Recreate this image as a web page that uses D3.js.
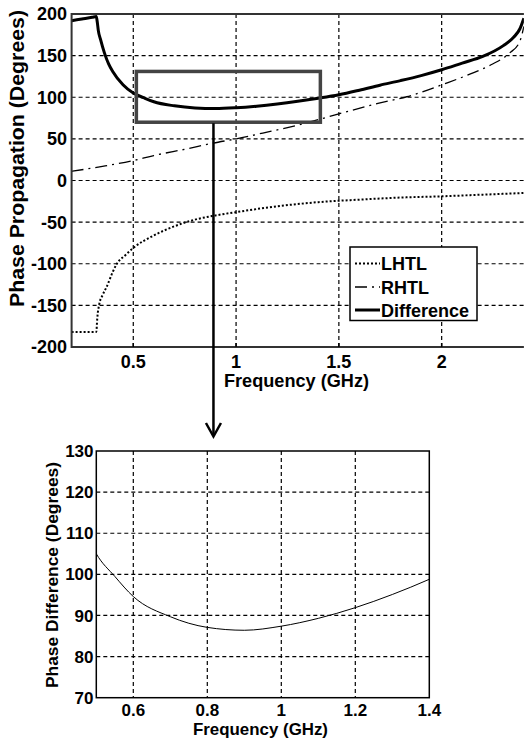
<!DOCTYPE html>
<html>
<head>
<meta charset="utf-8">
<script src="https://cdn.jsdelivr.net/npm/d3@7"></script>
<style>
  body { margin: 0; background: #fff; }
  text { font-family: "Liberation Sans", Arial, sans-serif; font-weight: bold; fill: #000; }
</style>
</head>
<body>
<script>
// values
var lhtlFreq = [0.2, 0.32, 0.325, 0.335, 0.35, 0.37, 0.4, 0.42, 0.46, 0.5, 0.6, 0.7, 0.8, 0.9, 1.0, 1.2, 1.4, 1.6, 1.8, 2.0, 2.2, 2.4]
var lhtlPhase = [-182, -182, -165, -148, -138, -128, -110, -100, -90, -81, -66, -55, -47, -42, -38, -31, -26, -23, -20.5, -19, -17, -15]

var rhtlFreq = [0.2, 0.35, 0.5, 0.6, 0.76, 0.89, 1.0, 1.13, 1.3, 1.5, 1.69, 1.83, 2.02, 2.14, 2.24, 2.33, 2.38, 2.4]
var rhtlPhase = [11, 17, 24, 30, 38, 45, 50, 57, 66.5, 80, 92.6, 100.6, 116.7, 128, 139, 153, 167, 185]

var diffFreq = [0.2, 0.25, 0.3, 0.32, 0.325, 0.33, 0.34, 0.36, 0.38, 0.4, 0.45, 0.5, 0.55, 0.6, 0.7, 0.8, 0.9, 1.0, 1.1, 1.2, 1.3, 1.4, 1.5, 1.6, 1.7, 1.8, 1.9, 2.0, 2.1, 2.2, 2.3, 2.35, 2.38, 2.4]
var diffPhase = [192, 194, 196, 197, 190, 180, 170, 153, 140, 131, 115, 105, 99.5, 94.6, 89.7, 87.1, 86.4, 87.4, 89.3, 91.9, 95.1, 98.8, 103, 108.5, 114.5, 120, 126, 133, 141, 149, 162, 172, 182, 195]

var topXTicks = [0.5, 1, 1.5, 2]
var topYTicks = [-200, -150, -100, -50, 0, 50, 100, 150, 200]
var botXTicks = [0.6, 0.8, 1, 1.2, 1.4]
var botYTicks = [70, 80, 90, 100, 110, 120, 130]

var legendNames = ["LHTL", "RHTL", "Difference"]

// zoom window drawn on the top plot
var boxFreq = [0.515, 1.41]
var boxPhase = [70, 131]
var arrowFreq = 0.89

var svg = d3.select("body").append("svg")
  .attr("width", 527)
  .attr("height", 740)

function zip(xs, ys) { return xs.map((x, i) => [x, ys[i]]) }

// ---------- TOP PLOT ----------
var x1 = d3.scaleLinear([0.2, 2.4], [71.6, 523.9])
var y1 = d3.scaleLinear([-200, 200], [347, 14])

svg.append("clipPath").attr("id", "clipTop")
  .append("rect").attr("x", x1(0.2)).attr("y", y1(200))
  .attr("width", x1(2.4) - x1(0.2)).attr("height", y1(-200) - y1(200))

var topPlot = svg.append("g")

// grid
topPlot.selectAll(".vgrid").data(topXTicks).join("line")
  .attr("x1", d => x1(d)).attr("x2", d => x1(d))
  .attr("y1", y1(200)).attr("y2", y1(-200))
  .attr("stroke", "#000").attr("stroke-width", 1.2).attr("stroke-dasharray", "4,3")
topPlot.selectAll(".hgrid").data(topYTicks.slice(1, -1)).join("line")
  .attr("x1", x1(0.2)).attr("x2", x1(2.4))
  .attr("y1", d => y1(d)).attr("y2", d => y1(d))
  .attr("stroke", "#000").attr("stroke-width", 1.2).attr("stroke-dasharray", "4,3")

var line1 = d3.line().x(d => x1(d[0])).y(d => y1(d[1])).curve(d3.curveMonotoneX)

var curves = topPlot.append("g").attr("clip-path", "url(#clipTop)")
curves.append("path").attr("d", line1(zip(lhtlFreq, lhtlPhase)))
  .attr("fill", "none").attr("stroke", "#000").attr("stroke-width", 2).attr("stroke-dasharray", "2,2")
curves.append("path").attr("d", line1(zip(rhtlFreq, rhtlPhase)))
  .attr("fill", "none").attr("stroke", "#000").attr("stroke-width", 1.3).attr("stroke-dasharray", "12,5,2,5")
curves.append("path").attr("d", line1(zip(diffFreq, diffPhase)))
  .attr("fill", "none").attr("stroke", "#000").attr("stroke-width", 3)

// axes frame (right side is cropped in the original)
topPlot.append("path")
  .attr("d", `M${x1(2.4)},${y1(200)}H${x1(0.2)}V${y1(-200)}H${x1(2.4)}`)
  .attr("fill", "none").attr("stroke", "#333").attr("stroke-width", 2)
topPlot.selectAll(".xtick").data(topXTicks).join("line")
  .attr("x1", d => x1(d)).attr("x2", d => x1(d))
  .attr("y1", y1(-200)).attr("y2", y1(-200) - 4)
  .attr("stroke", "#000").attr("stroke-width", 1.5)

// tick labels
topPlot.selectAll(".xlab").data(topXTicks).join("text")
  .attr("x", d => x1(d)).attr("y", 368)
  .attr("text-anchor", "middle").style("font-size", "18px")
  .text(d => d)
topPlot.selectAll(".ylab").data(topYTicks).join("text")
  .attr("x", 67).attr("y", d => y1(d)).attr("dy", "0.36em")
  .attr("text-anchor", "end").style("font-size", "18px")
  .text(d => d)

topPlot.append("text")
  .attr("x", 296.5).attr("y", 386.5).attr("text-anchor", "middle")
  .attr("textLength", 145).attr("lengthAdjust", "spacingAndGlyphs")
  .style("font-size", "18px").text("Frequency (GHz)")
topPlot.append("text")
  .attr("transform", "translate(24,158.5) rotate(-90)").attr("text-anchor", "middle")
  .attr("textLength", 297).attr("lengthAdjust", "spacingAndGlyphs")
  .style("font-size", "21px").text("Phase Propagation (Degrees)")

// zoom rectangle
topPlot.append("rect")
  .attr("x", x1(boxFreq[0])).attr("y", y1(boxPhase[1]))
  .attr("width", x1(boxFreq[1]) - x1(boxFreq[0]))
  .attr("height", y1(boxPhase[0]) - y1(boxPhase[1]))
  .attr("fill", "none").attr("stroke", "#444").attr("stroke-width", 3.5)

// legend
var leg = topPlot.append("g")
leg.append("rect").attr("x", 350).attr("y", 247).attr("width", 127).attr("height", 73.5)
  .attr("fill", "#fff").attr("stroke", "#000").attr("stroke-width", 1.5)
var legDash = ["2,2", "12,5,2,5", null]
var legWidth = [2, 1.3, 3]
var legY = [263.5, 287, 310]
leg.selectAll(".lline").data(legendNames).join("line")
  .attr("x1", 355).attr("x2", 380)
  .attr("y1", (d, i) => legY[i]).attr("y2", (d, i) => legY[i])
  .attr("stroke", "#000").attr("stroke-width", (d, i) => legWidth[i])
  .attr("stroke-dasharray", (d, i) => legDash[i])
leg.selectAll(".ltext").data(legendNames).join("text")
  .attr("x", 381).attr("y", (d, i) => legY[i] + 6.5)
  .style("font-size", "18px").text(d => d)

// arrow down to the zoomed plot
svg.append("line")
  .attr("x1", x1(arrowFreq)).attr("x2", x1(arrowFreq))
  .attr("y1", y1(boxPhase[0]) + 1).attr("y2", 436)
  .attr("stroke", "#000").attr("stroke-width", 2.5)
svg.append("path")
  .attr("d", `M${x1(arrowFreq) - 7.5},423 L${x1(arrowFreq)},436.5 L${x1(arrowFreq) + 7.5},423`)
  .attr("fill", "none").attr("stroke", "#000").attr("stroke-width", 2.5)

// ---------- BOTTOM PLOT ----------
var x2 = d3.scaleLinear([0.5, 1.4], [96.3, 429.3])
var y2 = d3.scaleLinear([70, 130], [697.7, 451])

svg.append("clipPath").attr("id", "clipBot")
  .append("rect").attr("x", x2(0.5)).attr("y", y2(130))
  .attr("width", x2(1.4) - x2(0.5)).attr("height", y2(70) - y2(130))

var bot = svg.append("g")

bot.selectAll(".vgrid").data(botXTicks.slice(0, -1)).join("line")
  .attr("x1", d => x2(d)).attr("x2", d => x2(d))
  .attr("y1", y2(130)).attr("y2", y2(70))
  .attr("stroke", "#000").attr("stroke-width", 1.2).attr("stroke-dasharray", "4,3")
bot.selectAll(".hgrid").data(botYTicks.slice(1, -1)).join("line")
  .attr("x1", x2(0.5)).attr("x2", x2(1.4))
  .attr("y1", d => y2(d)).attr("y2", d => y2(d))
  .attr("stroke", "#000").attr("stroke-width", 1.2).attr("stroke-dasharray", "4,3")

var line2 = d3.line().x(d => x2(d[0])).y(d => y2(d[1])).curve(d3.curveMonotoneX)
bot.append("path").attr("clip-path", "url(#clipBot)")
  .attr("d", line2(zip(diffFreq, diffPhase)))
  .attr("fill", "none").attr("stroke", "#000").attr("stroke-width", 1)

bot.append("rect")
  .attr("x", x2(0.5)).attr("y", y2(130))
  .attr("width", x2(1.4) - x2(0.5)).attr("height", y2(70) - y2(130))
  .attr("fill", "none").attr("stroke", "#000").attr("stroke-width", 1.5)

bot.selectAll(".xlab").data(botXTicks).join("text")
  .attr("x", d => x2(d)).attr("y", 715.5)
  .attr("text-anchor", "middle").style("font-size", "17px")
  .text(d => d)
bot.selectAll(".ylab").data(botYTicks).join("text")
  .attr("x", 93.5).attr("y", d => y2(d)).attr("dy", "0.36em")
  .attr("text-anchor", "end").style("font-size", "17px")
  .text(d => d)

bot.append("text")
  .attr("x", 260.5).attr("y", 735).attr("text-anchor", "middle")
  .attr("textLength", 135).attr("lengthAdjust", "spacingAndGlyphs")
  .style("font-size", "17px").text("Frequency (GHz)")
bot.append("text")
  .attr("transform", "translate(58,575) rotate(-90)").attr("text-anchor", "middle")
  .attr("textLength", 226).attr("lengthAdjust", "spacingAndGlyphs")
  .style("font-size", "17px").text("Phase Difference (Degrees)")
</script>
</body>
</html>
